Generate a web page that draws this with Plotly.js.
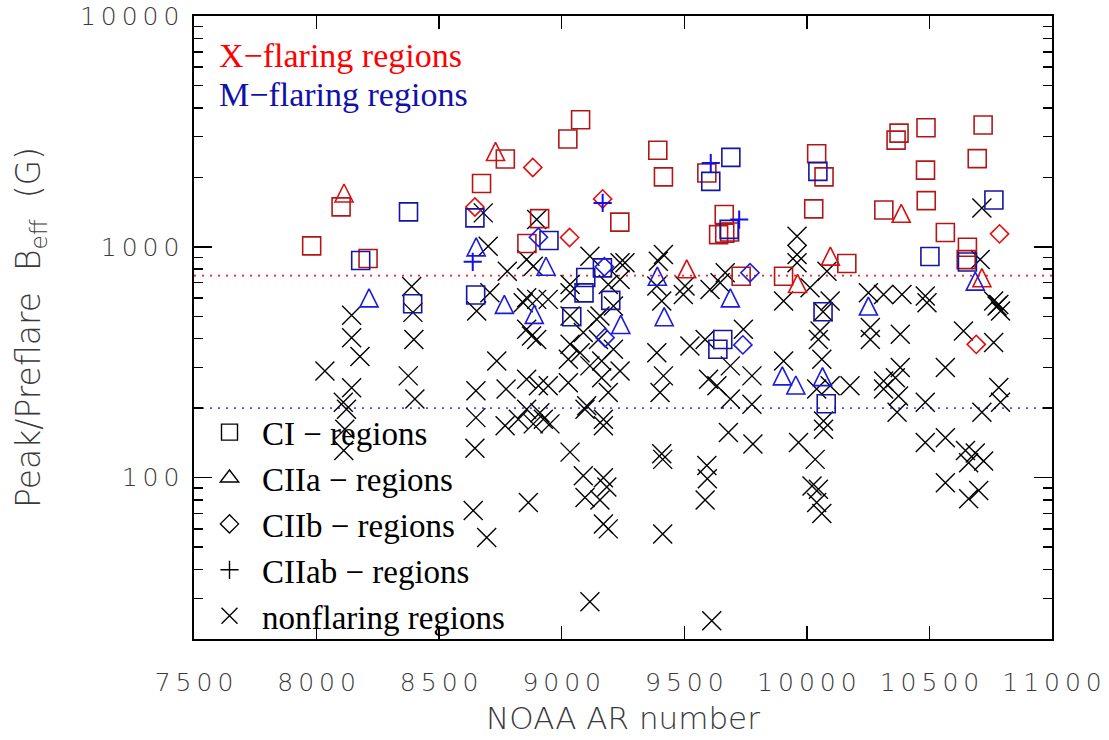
<!DOCTYPE html>
<html>
<head>
<meta charset="utf-8">
<script src="https://cdn.plot.ly/plotly-3.0.1.min.js"></script>
<style>html,body{margin:0;padding:0;background:#fff;}#chart{width:1109px;height:740px;}</style>
</head>
<body>
<div id="chart"></div>
<script>
// ---------- X-flaring regions (red) ----------
const xfCI_ar = [7980, 8100, 8210, 8673, 8770, 9025, 9077, 9237, 8910, 8858, 9392, 9415, 9592, 9663, 9640, 9665, 9685, 10040, 10070, 10028, 10376, 10364, 10486, 10719, 10484, 10695, 10314, 10487, 10565, 10655, 10650, 10163, 9905, 9732];
const xfCI_b  = [1010, 1490, 890, 1880, 2400, 2930, 3550, 1280, 1325, 1033, 2620, 2010, 2090, 1380, 1130, 1145, 1160, 2530, 2010, 1460, 3110, 2900, 3280, 3370, 2150, 2410, 1445, 1585, 1153, 996, 880, 847, 746, 746];
const xfCIIa_ar = [8112, 8730, 10385, 10096, 9962, 9510, 10714];
const xfCIIa_b  = [1711, 2590, 1397, 911, 694, 803, 735];
const xfCIIb_ar = [8882, 9167, 8646, 9032, 10786, 10691];
const xfCIIb_b  = [2208, 1613, 1489, 1097, 1138, 378];

// ---------- M-flaring regions (blue) ----------
const mfCI_ar = [8180, 8375, 8392, 8646, 8948, 8649, 9098, 9091, 9200, 9041, 9166, 9608, 9690, 9683, 10045, 10763, 10502, 10655, 10066, 9657, 9637, 10079];
const mfCI_b  = [872, 1417, 567, 1335, 1065, 618, 736, 632, 586, 498, 811, 1921, 2440, 1190, 2123, 1596, 908, 860, 523, 397, 360, 209];
const mfCIIa_ar = [8214, 8651, 8936, 8766, 8888, 9241, 9390, 9418, 9688, 10251, 10687, 9900, 9955, 10064];
const mfCIIa_b  = [601, 1000, 824, 563, 510, 461, 746, 498, 601, 554, 710, 276, 252, 274];
const mfCIIb_ar = [8905, 9174, 9177, 9768, 9739];
const mfCIIb_b  = [1100, 820, 404, 772, 376];
const mfCIIab_ar = [9167, 8637, 9608, 9724];
const mfCIIab_b  = [1549, 861, 2307, 1313];

// ---------- nonflaring regions (black) ----------
const nf_ar = [
  8034, 8143, 8143, 8177, 8143, 8109, 8122, 8115, 8111,
  8388, 8393, 8397, 8374, 8401,
  8680, 8700, 8778, 8707, 8653, 8735, 8650, 8773, 8650, 8646, 8639, 8694,
  8898, 8857, 8884, 8857, 8898, 8945, 8843, 8857, 8877, 8898, 8857, 8905, 8945, 8857, 8911, 8769, 8823, 8884, 8925, 8952, 8864,
  9034, 9034, 9115, 9238, 9190, 9238, 9034, 9143, 9156, 9211, 9088, 9034, 9075, 9027, 9115, 9163, 9150, 9211, 9238, 9163, 9190, 9027, 9102, 9095, 9170, 9170, 9034, 9088, 9170, 9184, 9095, 9156, 9170, 9190, 9115,
  9258, 9415, 9394, 9388, 9408, 9388, 9415, 9401, 9408, 9412, 9412, 9503, 9496, 9523,
  9605, 9646, 9667, 9585, 9688, 9599, 9633, 9688, 9776, 9776, 9741, 9680, 9780, 9592, 9594, 9585, 9612,
  9905, 9960, 9960, 9960, 10082, 10013, 10095, 10054, 10047, 10061, 9905, 10040, 10095, 10176, 9966, 10068, 10068, 10034, 10021, 10047, 10040, 10061, 10066,
  10251, 10313, 10388, 10483, 10490, 10259, 10259, 10381, 10381, 10313, 10361, 10313, 10374, 10368, 10483, 10483, 10565, 10565, 10565,
  10639, 10647, 10687, 10660, 10721, 10660, 10701, 10714, 10762, 10783, 10762, 10707, 10776, 10790, 10783, 10790, 10714
];
const nf_b = [
  290, 505, 404, 335, 245, 212, 198, 162, 131,
  673, 520, 397, 276, 219,
  1403, 1006, 784, 632, 527, 320, 238, 242, 182, 134, 72, 55,
  1312, 881, 824, 602, 592, 592, 573, 439, 411, 397, 267, 250, 250, 198, 191, 168, 179, 171, 179, 171, 78,
  687, 632, 911, 853, 687, 722, 501, 485, 501, 554, 425, 378, 348, 326, 305, 320, 397, 360, 290, 271, 234, 258, 205, 198, 179, 168, 129, 102, 100, 91, 82, 80, 63, 60, 29,
  853, 926, 866, 676, 582, 348, 276, 234, 127, 120, 57, 676, 622, 372,
  654, 699, 772, 397, 305, 267, 250, 219, 276, 208, 439, 157, 140, 113, 99, 80, 24,
  582, 1111, 926, 853, 784, 665, 582, 432, 397, 326, 320, 242, 250, 250, 142, 162, 176, 120, 92, 89, 78, 70, 523,
  633, 622, 622, 612, 573, 447, 397, 418, 300, 262, 271, 242, 226, 192, 212, 142, 149, 300, 95,
  432, 131, 128, 116, 118, 81, 88, 192, 385, 563, 582, 881, 554, 527, 246, 212, 1474
];

// ---------- reference levels ----------
const xLevel = 750;
const mLevel = 200;

// ---------- axis ticks ----------
const xTickVals = [7500, 8000, 8500, 9000, 9500, 10000, 10500, 11000];
const yTickVals = [100, 1000, 10000];
const yMinorVals = [30, 40, 50, 60, 70, 80, 90, 200, 300, 400, 500, 600, 700, 800, 900, 2000, 3000, 4000, 5000, 6000, 7000, 8000, 9000];

const sp = '\u2009';
const spaced = v => String(v).split('').join(sp);

const RED = '#d41010', DRED = '#b01818', BLUE = '#1a1ae0', DBLUE = '#15159e';

function pts(x, y, marker) {
  return {type: 'scatter', mode: 'markers', x: x, y: y, showlegend: false, hoverinfo: 'x+y', marker: marker};
}
function mk(symbol, size, color, width) {
  return {symbol: symbol, size: size, color: color, line: {color: color, width: width || 1.6}};
}
// upward triangle centred on its point, same width as height
function tri(color) {
  return {symbol: 'arrow-down-open', angle: 180, standoff: 9, size: 18, color: color, line: {color: color, width: 1.6}};
}
function legendItem(name, symbol, size) {
  return {type: 'scatter', mode: 'markers', x: [null], y: [null], name: name, legendgroup: name,
    marker: {symbol: symbol, size: size, color: '#000', line: {color: '#000', width: 1.4}}};
}

const traces = [
  pts(nf_ar, nf_b, mk('x-thin-open', 19, '#000', 1.4)),
  pts(xfCI_ar, xfCI_b, mk('square-open', 18, DRED)),
  pts(xfCIIa_ar, xfCIIa_b, tri(RED)),
  pts(xfCIIb_ar, xfCIIb_b, mk('diamond-open', 14, '#e01010')),
  pts(mfCI_ar, mfCI_b, mk('square-open', 18, DBLUE)),
  pts(mfCIIa_ar, mfCIIa_b, tri(BLUE)),
  pts(mfCIIb_ar, mfCIIb_b, mk('diamond-open', 14, BLUE)),
  pts(mfCIIab_ar, mfCIIab_b, mk('cross-thin-open', 13, '#1010ee', 2)),
  legendItem('CI \u2212 regions', 'square-open', 18),
  legendItem('CIIa \u2212 regions', 'triangle-up-open', 16),
  legendItem('CIIb \u2212 regions', 'diamond-open', 14),
  legendItem('CIIab \u2212 regions', 'cross-thin-open', 13),
  legendItem('nonflaring regions', 'x-thin-open', 19)
];

const axFont = {family: 'DejaVu Sans ExtraLight, DejaVu Sans', size: 25, color: '#3a3a3a', weight: 200};

const layout = {
  width: 1109, height: 740,
  margin: {l: 194, r: 57, t: 16, b: 101, pad: 0},
  paper_bgcolor: '#fff', plot_bgcolor: '#fff',
  showlegend: true,
  legend: {x: 0.0035, y: 0.377, xanchor: 'left', yanchor: 'top', bgcolor: 'rgba(0,0,0,0)',
    font: {family: 'Liberation Serif, Times New Roman, serif', size: 33, color: '#000'},
    itemwidth: 55, tracegroupgap: 0, traceorder: 'grouped', itemclick: false},
  xaxis: {
    range: [7500, 11000], tickmode: 'array', tickvals: xTickVals, ticktext: xTickVals.map(spaced),
    ticks: 'inside', ticklen: 13, tickwidth: 1.5, tickcolor: '#000',
    showline: true, linewidth: 1.6, linecolor: '#000', mirror: 'ticks',
    showgrid: false, zeroline: false, tickfont: axFont, ticklabelstandoff: 20,
    title: {text: 'NOAA AR number', font: {family: axFont.family, size: 31, color: '#3a3a3a', weight: 200}, standoff: 12}
  },
  yaxis: {
    type: 'log', range: [Math.log10(20), 4], tickmode: 'array', tickvals: yTickVals, ticktext: yTickVals.map(spaced),
    ticks: 'inside', ticklen: 18, tickwidth: 1.5, tickcolor: '#000',
    minor: {tickmode: 'array', tickvals: yMinorVals, ticks: 'inside', ticklen: 9, tickwidth: 1.5, tickcolor: '#000', showgrid: false},
    showline: true, linewidth: 1.6, linecolor: '#000', mirror: 'ticks',
    showgrid: false, zeroline: false, tickfont: axFont, ticklabelstandoff: 8,
    title: {text: 'Peak/Preflare  B<sub>eff</sub>  (G)', font: {family: axFont.family, size: 33, color: '#3a3a3a', weight: 200}, standoff: 29}
  },
  shapes: [
    {type: 'line', xref: 'paper', x0: 0, x1: 1, yref: 'y', y0: xLevel, y1: xLevel, layer: 'below',
     line: {color: '#ff2020', width: 1.6, dash: '2px,6px'}},
    {type: 'line', xref: 'paper', x0: 0, x1: 1, yref: 'y', y0: mLevel, y1: mLevel, layer: 'below',
     line: {color: '#4a4aff', width: 1.6, dash: '2px,6px'}}
  ],
  annotations: [
    {xref: 'paper', yref: 'paper', x: 0.027, y: 0.937, xanchor: 'left', yanchor: 'middle', showarrow: false,
     text: 'X\u2212flaring regions', font: {family: 'Liberation Serif, Times New Roman, serif', size: 34, color: '#ff0000'}},
    {xref: 'paper', yref: 'paper', x: 0.027, y: 0.874, xanchor: 'left', yanchor: 'middle', showarrow: false,
     text: 'M\u2212flaring regions', font: {family: 'Liberation Serif, Times New Roman, serif', size: 34, color: '#1010aa'}}
  ]
};

Plotly.newPlot('chart', traces, layout, {displayModeBar: false, staticPlot: true});
</script>
</body>
</html>
